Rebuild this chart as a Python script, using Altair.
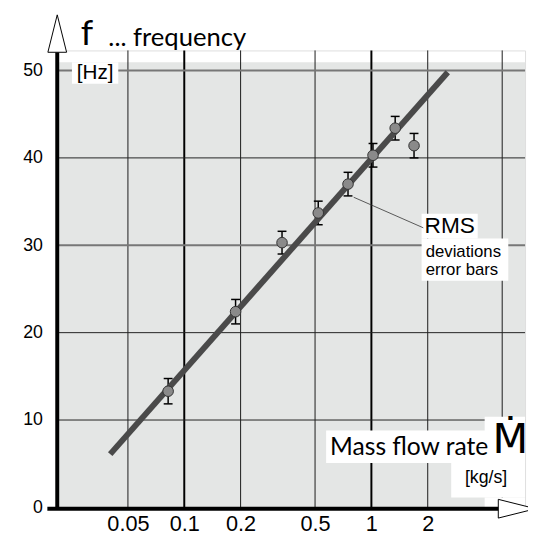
import altair as alt
import pandas as pd

# ---- data ----
mass_flow = [0.082, 0.188, 0.333, 0.52, 0.75, 1.02, 1.34, 1.69]
frequency = [13.3, 22.4, 30.3, 33.7, 37.0, 40.3, 43.4, 41.4]
rms_dev = [1.45, 1.4, 1.3, 1.35, 1.35, 1.35, 1.35, 1.4]

fit_x = [0.0402, 2.56]
fit_y = [6.1, 49.8]

x_ticks = [0.05, 0.1, 0.2, 0.5, 1, 2]
y_ticks = [0, 10, 20, 30, 40, 50]
x_grid_major = [0.1, 1]
x_grid_minor = [0.05, 0.2, 0.5, 2, 5]
y_grid_dark = [10, 20, 40]
y_grid_grey = [30, 50]

X_MIN, X_MAX = 0.02095, 6.624
Y_MIN, Y_MAX = 0, 52.3

xscale = alt.Scale(type="log", domain=[X_MIN, X_MAX], nice=False)
yscale = alt.Scale(domain=[Y_MIN, Y_MAX], nice=False, zero=False)

xaxis = alt.Axis(values=x_ticks, format="~g", title=None, grid=False, domain=False,
                 ticks=False, labelFont="Liberation Sans Narrow, Liberation Sans",
                 labelFontSize=22, labelPadding=6, labelColor="black", labelFlush=False)
yaxis = alt.Axis(values=y_ticks, title=None, grid=False, domain=False, ticks=False,
                 labelFont="Liberation Sans", labelFontSize=18, labelPadding=15,
                 labelColor="black")

pts = pd.DataFrame({"x": mass_flow, "y": frequency,
                    "lo": [f - r for f, r in zip(frequency, rms_dev)],
                    "hi": [f + r for f, r in zip(frequency, rms_dev)]})
fit = pd.DataFrame({"x": fit_x, "y": fit_y})


def X(field="x"):
    return alt.X(field, type="quantitative", scale=xscale, axis=xaxis)


def Y(field="y"):
    return alt.Y(field, type="quantitative", scale=yscale, axis=yaxis)


layers = []


def rect(x1, x2, y1, y2, color):
    d = pd.DataFrame({"x": [x1], "x2": [x2], "y": [y1], "y2": [y2]})
    layers.append(alt.Chart(d).mark_rect(color=color).encode(
        x=X("x"), x2="x2", y=Y("y"), y2="y2"))


def seg(x1, x2, y1, y2, width, color):
    d = pd.DataFrame({"x": x1, "x2": x2, "y": y1, "y2": y2})
    layers.append(alt.Chart(d).mark_rule(strokeWidth=width, color=color).encode(
        x=X(), x2="x2", y=Y(), y2="y2"))


def text(s, x, y, size, font="Liberation Sans", align="left", baseline="alphabetic"):
    d = pd.DataFrame({"x": [x], "y": [y], "t": [s]})
    layers.append(alt.Chart(d).mark_text(font=font, fontSize=size, align=align,
                                         baseline=baseline, color="black").encode(
        x=X(), y=Y(), text="t:N"))


# background
rect(X_MIN, X_MAX, 0, 50.96, "#e4e6e5")

# grid
seg(x_grid_minor, x_grid_minor, [0] * 5, [Y_MAX] * 5, 1, "#1a1a1a")
seg(x_grid_major, x_grid_major, [0] * 2, [Y_MAX] * 2, 2, "#000000")
seg([X_MIN] * 2, [X_MAX] * 2, y_grid_grey, y_grid_grey, 2, "#777777")
seg([X_MIN] * 3, [X_MAX] * 3, y_grid_dark, y_grid_dark, 1, "#222222")

# white boxes behind labels
rect(0.0251, 0.0444, 48.5, 50.96, "white")
rect(1.855, 3.70, 30.78, 33.6, "white")
rect(1.855, 5.39, 25.93, 30.78, "white")
rect(0.573, X_MAX, 5.07, 8.79, "white")
rect(4.03, X_MAX, 5.07, 10.37, "white")
rect(2.67, X_MAX, 1.13, 5.07, "white")
rect(4.03, X_MAX, 0, 1.13, "white")

# error bars
layers.append(alt.Chart(pts).mark_rule(color="black", strokeWidth=1.5).encode(
    x=X(), y=Y("lo"), y2="hi"))
layers.append(alt.Chart(pts).mark_tick(orient="horizontal", size=9, thickness=1.5,
                                       color="black", opacity=1).encode(x=X(), y=Y("lo")))
layers.append(alt.Chart(pts).mark_tick(orient="horizontal", size=9, thickness=1.5,
                                       color="black", opacity=1).encode(x=X(), y=Y("hi")))

# fit line
layers.append(alt.Chart(fit).mark_line(color="#4a4a4a", strokeWidth=6).encode(x=X(), y=Y()))

# points
layers.append(alt.Chart(pts).mark_point(filled=True, color="#8a8a8a", stroke="#333333",
                                        strokeWidth=1, size=115, opacity=1).encode(x=X(), y=Y()))

# leader line
seg([0.804], [1.894], [35.5], [32.0], 0.8, "#333333")

# texts
text("f", 0.028, 52.9, 36, font="Lato")
text("... frequency", 0.0393, 52.76, 26, font="Lato")
text("[Hz]", 0.0334, 49.75, 21, align="center", baseline="middle")
text("RMS", 1.923, 31.37, 23)
text("deviations", 1.95, 28.64, 17)
text("error bars", 1.95, 26.6, 17)
text("Mass flow rate", 0.601, 5.975, 25, font="Lato")
text("\u1e40", 5.53, 6.2, 42, font="DejaVu Sans", align="center")
text("[kg/s]", 3.16, 2.82, 18)

# axis lines
seg([X_MIN], [X_MIN], [-0.15], [52.08], 4, "black")
seg([0.01855], [4.9], [-0.15], [-0.15], 4, "black")

# arrows
layers.append(alt.Chart(pd.DataFrame({"x": [6.0], "y": [-0.15]})).mark_point(
    shape="M -1 -0.5 L 1 0 L -1 0.5 Z", size=1444, filled=True, color="white",
    stroke="black", strokeWidth=1, opacity=1).encode(x=X(), y=Y()))
layers.append(alt.Chart(pd.DataFrame({"x": [X_MIN], "y": [54.23]})).mark_point(
    shape="M -0.5 1 L 0 -1 L 0.5 1 Z", size=1444, filled=True, color="white",
    stroke="black", strokeWidth=1, opacity=1).encode(x=X(), y=Y()))

chart = alt.layer(*layers).properties(
    width=475, height=464,
    autosize=alt.AutoSizeParams(type="none"),
    padding={"left": 50, "top": 39, "right": 3, "bottom": 28},
).configure_view(stroke=None).configure(background="white")

chart.save("out.html", embed_options={"renderer": "svg", "actions": False})
